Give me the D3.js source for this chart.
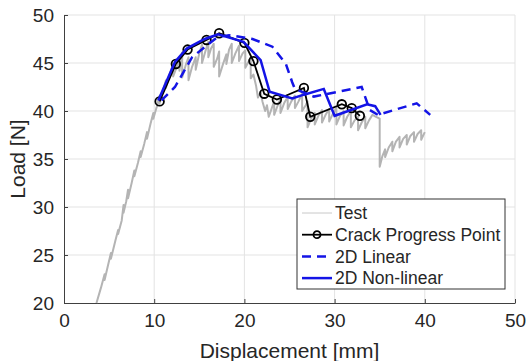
<!DOCTYPE html>
<html>
<head>
<meta charset="utf-8">
<script src="https://cdn.jsdelivr.net/npm/d3@7"></script>
<style>
  body { margin: 0; background: #fff; }
  text { font-family: "Liberation Sans", Arial, sans-serif; fill: #262626; }
</style>
</head>
<body>
<div id="chart"></div>
<script>
// Test curve (saw-tooth drops kept)
const testX = [3.6, 4.1, 4.5, 4.5, 4.9, 5.2, 5.2, 5.7, 6.0, 6.0, 6.4, 6.6, 6.6, 6.9, 7.1, 7.1, 7.5, 7.8, 7.8, 8.2,
  8.5, 8.5, 8.9, 9.2, 9.2, 9.6, 9.9, 9.9, 10.3, 10.6, 10.6, 11.0, 11.3, 11.3, 11.7, 12.1, 12.1, 12.5, 12.8, 12.8,
  13.1, 13.1, 13.5, 13.8, 13.8, 14.2, 14.6, 14.6, 15.0, 15.3, 15.3, 15.7, 16.0, 16.0, 16.3, 16.6, 16.6, 17.0, 17.2, 17.2,
  17.6, 18.0, 18.0, 18.3, 18.6, 18.6, 19.0, 19.4, 19.4, 19.8, 20.1, 20.1, 20.5, 20.7, 20.7, 21.0, 21.3, 21.5, 21.8, 22.0,
  22.3, 22.5, 22.7, 23.0, 23.3, 23.3, 23.7, 24.0, 24.0, 24.4, 24.8, 24.8, 25.2, 25.6, 25.6, 26.0, 26.4, 26.4, 26.8, 27.0,
  27.0, 27.4, 27.8, 27.8, 28.2, 28.6, 28.6, 29.0, 29.4, 29.4, 29.8, 30.2, 30.2, 30.6, 31.0, 31.0, 31.4, 31.8, 31.8, 32.2,
  32.6, 32.6, 33.0, 33.4, 33.4, 33.8, 34.2, 34.6, 35.0, 35.0, 35.3, 35.6, 35.6, 36.0, 36.4, 36.4, 36.8, 37.2, 37.2, 37.6,
  38.0, 38.0, 38.4, 38.8, 38.8, 39.2, 39.6, 39.6, 40.0];
const testY = [20.0, 21.6, 23.0, 22.4, 24.0, 25.2, 24.6, 26.5, 27.6, 27.2, 28.6, 30.2, 29.4, 30.6, 31.8, 30.9, 32.5, 33.8, 33.2, 34.6,
  35.8, 35.2, 36.6, 37.8, 37.1, 38.7, 39.8, 39.2, 40.5, 41.6, 40.8, 42.2, 43.2, 42.4, 43.8, 44.9, 43.6, 44.6, 45.5, 44.2,
  46.1, 43.5, 44.8, 45.6, 43.2, 44.6, 45.6, 44.3, 46.0, 46.9, 45.0, 46.3, 47.2, 45.6, 46.5, 47.0, 44.6, 45.5, 46.2, 43.6,
  44.8, 45.9, 44.9, 46.4, 47.0, 45.0, 46.0, 46.8, 45.2, 46.0, 46.3, 44.5, 45.2, 45.6, 43.4, 43.8, 42.6, 41.4, 42.0, 41.0,
  40.0, 40.6, 39.4, 40.2, 41.0, 39.6, 40.6, 41.3, 39.8, 40.8, 41.5, 40.2, 41.0, 41.6, 40.3, 41.0, 41.8, 40.0, 40.6, 41.0,
  38.3, 39.2, 39.8, 38.6, 39.5, 40.1, 38.8, 39.6, 40.2, 38.9, 39.7, 40.3, 38.6, 39.5, 40.0, 38.5, 39.4, 40.0, 38.3, 39.0,
  39.4, 38.0, 38.8, 39.4, 38.2, 39.0, 39.6, 39.4, 39.2, 34.2, 35.3, 36.0, 35.2, 36.2, 36.8, 35.8, 36.8, 37.3, 36.2, 37.1,
  37.5, 36.5, 37.4, 37.8, 36.8, 37.6, 38.0, 37.0, 37.8];

const crackX = [10.6, 12.4, 13.7, 15.8, 17.2, 20.0, 21.0, 22.2, 23.6, 26.6, 27.3, 30.8, 31.9, 32.8];
const crackY = [41.0, 44.9, 46.4, 47.4, 48.1, 47.1, 45.2, 41.8, 41.2, 42.4, 39.4, 40.7, 40.3, 39.5];

const linX = [10.8, 12.3, 14.2, 17.0, 18.3, 20.9, 23.1, 24.6, 25.3, 25.6, 27.7, 33.0, 33.9, 34.8, 39.1, 40.6];
const linY = [41.1, 42.5, 45.6, 47.7, 47.9, 47.5, 46.7, 44.9, 43.0, 42.3, 41.5, 42.5, 40.1, 39.6, 40.8, 39.6];

const nonlinX = [10.45, 12.3, 13.6, 15.6, 17.1, 19.9, 21.8, 22.8, 25.3, 26.6, 28.8, 30.0, 33.6, 34.5, 35.1];
const nonlinY = [41.1, 45.1, 46.5, 47.5, 48.0, 47.2, 45.3, 42.0, 41.3, 41.7, 42.3, 39.5, 40.7, 40.5, 39.6];

const xTicks = [0, 10, 20, 30, 40, 50];
const yTicks = [20, 25, 30, 35, 40, 45, 50];

const legendItems = ['Test', 'Crack Progress Point', '2D Linear', '2D Non-linear'];

const width = 528, height = 361;
const margin = { top: 15, right: 13, bottom: 58, left: 64 };

const svg = d3.select('#chart')
  .append('svg')
  .attr('width', width)
  .attr('height', height);

const x = d3.scaleLinear().domain([0, 50]).range([margin.left, width - margin.right]);
const y = d3.scaleLinear().domain([20, 50]).range([height - margin.bottom, margin.top]);

const zip = (xs, ys) => xs.map((v, i) => [v, ys[i]]);

// Grid
svg.append('g')
  .selectAll('line')
  .data(xTicks.slice(1))
  .enter()
  .append('line')
  .attr('x1', d => x(d)).attr('x2', d => x(d))
  .attr('y1', y(20)).attr('y2', y(50))
  .attr('stroke', '#e3e3e3').attr('stroke-width', 1);

svg.append('g')
  .selectAll('line')
  .data(yTicks.slice(1))
  .enter()
  .append('line')
  .attr('x1', x(0)).attr('x2', x(50))
  .attr('y1', d => y(d)).attr('y2', d => y(d))
  .attr('stroke', '#e3e3e3').attr('stroke-width', 1);

// Axes (MATLAB style: inward ticks)
const xAxis = d3.axisBottom(x).tickValues(xTicks).tickSizeInner(-4).tickSizeOuter(0).tickPadding(11);
const yAxis = d3.axisLeft(y).tickValues(yTicks).tickSizeInner(-4).tickSizeOuter(0).tickPadding(10);

const gx = svg.append('g')
  .attr('transform', `translate(0,${y(20)})`)
  .call(xAxis);
const gy = svg.append('g')
  .attr('transform', `translate(${x(0)},0)`)
  .call(yAxis);

[gx, gy].forEach(g => {
  g.selectAll('path, line').attr('stroke', '#404040');
  g.selectAll('text').attr('font-size', 19).attr('fill', '#262626')
    .style('font-family', '"Liberation Sans", Arial, sans-serif');
});

// Curves
const line = d3.line().x(d => x(d[0])).y(d => y(d[1]));

svg.append('path')
  .datum(zip(testX, testY))
  .attr('fill', 'none')
  .attr('stroke', '#b4b4b4')
  .attr('stroke-width', 2)
  .attr('stroke-linejoin', 'round')
  .attr('d', line);

svg.append('path')
  .datum(zip(crackX, crackY))
  .attr('fill', 'none')
  .attr('stroke', '#000')
  .attr('stroke-width', 1.8)
  .attr('d', line);

svg.append('g')
  .selectAll('circle')
  .data(zip(crackX, crackY))
  .enter()
  .append('circle')
  .attr('cx', d => x(d[0]))
  .attr('cy', d => y(d[1]))
  .attr('r', 4.3)
  .attr('fill', 'none')
  .attr('stroke', '#000')
  .attr('stroke-width', 1.8);

svg.append('path')
  .datum(zip(linX, linY))
  .attr('fill', 'none')
  .attr('stroke', '#1414e6')
  .attr('stroke-width', 2.5)
  .attr('stroke-dasharray', '9,6')
  .attr('d', line);

svg.append('path')
  .datum(zip(nonlinX, nonlinY))
  .attr('fill', 'none')
  .attr('stroke', '#1414e6')
  .attr('stroke-width', 2.5)
  .attr('d', line);

// Axis titles
svg.append('text')
  .attr('x', (x(0) + x(50)) / 2)
  .attr('y', 358)
  .attr('text-anchor', 'middle')
  .attr('font-size', 21)
  .text('Displacement [mm]');

svg.append('text')
  .attr('transform', `translate(25,${(y(20) + y(50)) / 2}) rotate(-90)`)
  .attr('text-anchor', 'middle')
  .attr('font-size', 21)
  .text('Load [N]');

// Legend
const lg = svg.append('g').attr('transform', 'translate(297,199)');
lg.append('rect')
  .attr('width', 208).attr('height', 90)
  .attr('fill', '#fff')
  .attr('stroke', '#333').attr('stroke-width', 1);

const rowH = 21.7;
const rows = lg.selectAll('g.row')
  .data(legendItems)
  .enter()
  .append('g')
  .attr('class', 'row')
  .attr('transform', (d, i) => `translate(0,${14 + i * rowH})`);

rows.append('line')
  .attr('x1', 5).attr('x2', 35)
  .attr('y1', 0).attr('y2', 0)
  .attr('stroke', (d, i) => ['#c8c8c8', '#000', '#1414e6', '#1414e6'][i])
  .attr('stroke-width', (d, i) => [1, 1.8, 2.5, 2.5][i])
  .attr('stroke-dasharray', (d, i) => i === 2 ? '9,6' : null);

rows.filter((d, i) => i === 1)
  .append('circle')
  .attr('cx', 20).attr('cy', 0).attr('r', 3.5)
  .attr('fill', 'none').attr('stroke', '#000').attr('stroke-width', 1.8);

rows.append('text')
  .attr('x', 38)
  .attr('y', 0)
  .attr('dy', '0.36em')
  .attr('font-size', 17.5)
  .text(d => d);
</script>
</body>
</html>
